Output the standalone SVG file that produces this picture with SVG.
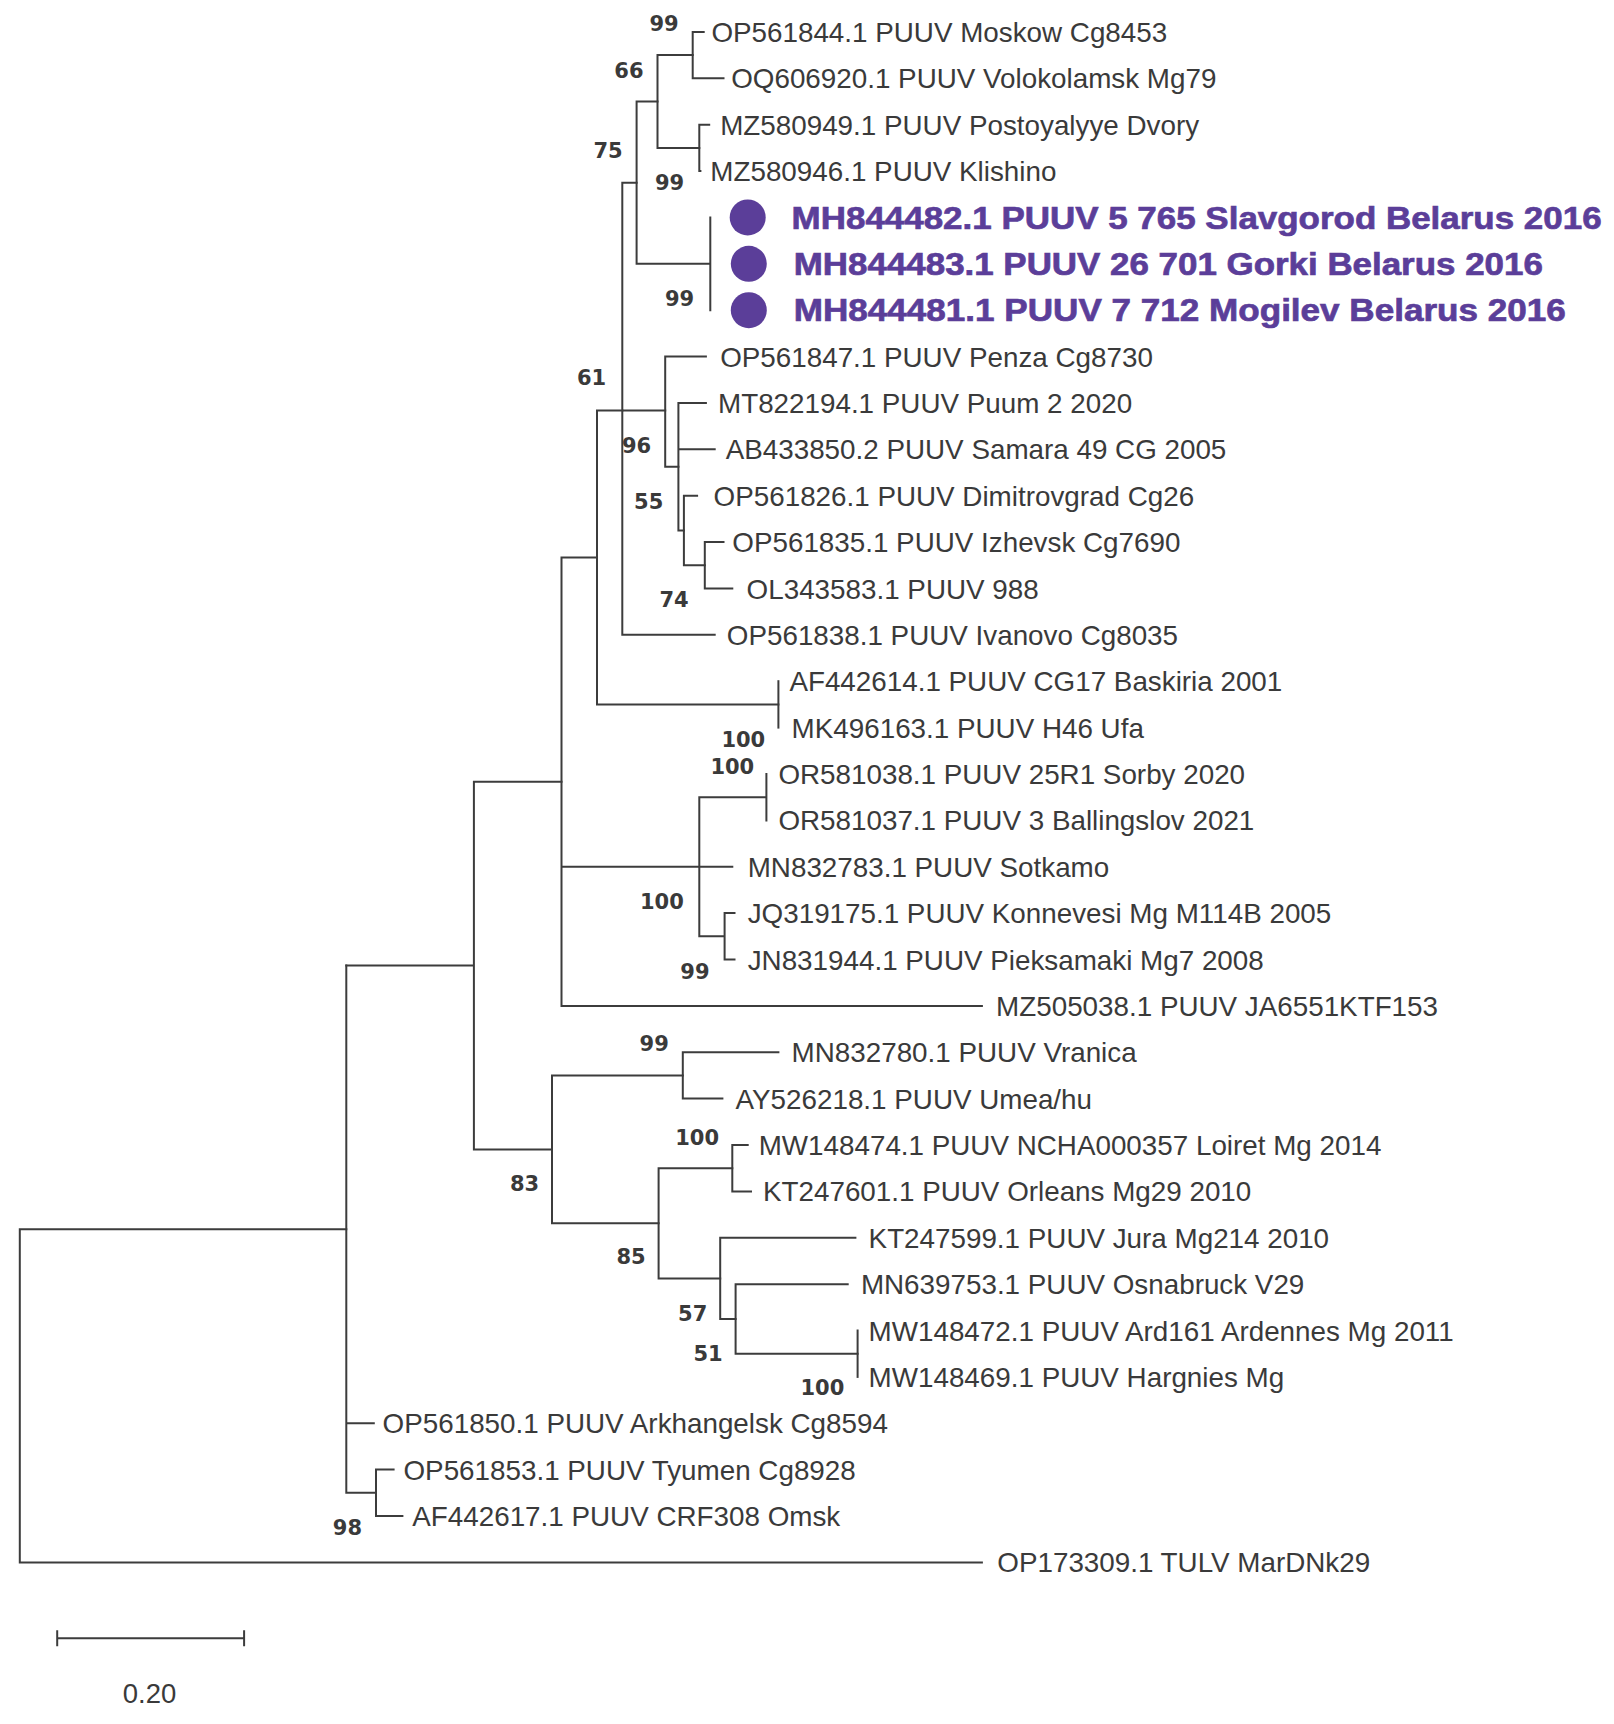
<svg xmlns="http://www.w3.org/2000/svg" width="1614" height="1724" viewBox="0 0 1614 1724">
<style>
.br{stroke:#3c3c3c;stroke-width:2;fill:none;stroke-linecap:square}
.tx{font-family:"Liberation Sans",Arial,sans-serif;font-size:27.8px;fill:#3a3a3a}
.hl{font-family:"Liberation Sans",Arial,sans-serif;font-size:32px;font-weight:bold;fill:#5b3e99;stroke:#5b3e99;stroke-width:0.7}
.bs{font-family:"DejaVu Sans",Verdana,sans-serif;font-size:21px;font-weight:bold;fill:#3a3a3a;text-anchor:middle}
.dot{fill:#5b3e99}
.sc{font-family:"Liberation Sans",Arial,sans-serif;font-size:27.5px;fill:#3a3a3a;text-anchor:middle}
</style>
<rect width="1614" height="1724" fill="#ffffff"/>
<g id="connectors" class="br">
<path d="M19.8,1229.2 V1562.4 H981.9 M19.8,1229.2 H346.3"/>
<path d="M346.3,965.5 V1492.8 M346.3,1423.3 H373.8 M346.3,1492.8 H376"/>
<path d="M376,1469.6 V1516 M376,1469.6 H393.6 M376,1516 H402.4"/>
<path d="M346.3,965.5 H473.9 M473.9,781.7 V1149.4 M473.9,781.7 H561.5 M473.9,1149.4 H552"/>
<path d="M561.5,557.5 V1005.9 M561.5,1005.9 H981.9 M561.5,866.7 H732.3 M561.5,557.5 H597"/>
<path d="M597,410.5 V704.4 M597,704.4 H778.4 M597,410.5 H622.3"/>
<path d="M778.4,681.2 V727.6"/>
<path d="M699.3,797.2 V936.3 M699.3,797.2 H766.4 M766.4,774 V820.4 M699.3,936.3 H724.6 M724.6,913.1 V959.5 M724.6,913.1 H734.5 M724.6,959.5 H734.5"/>
<path d="M622.3,182.7 V634.8 M622.3,634.8 H714.7 M622.3,182.7 H636.6 M622.3,410.5 H665.2"/>
<path d="M636.6,101.5 V263.8 M636.6,101.5 H657.5 M636.6,263.8 H710.3 M710.3,217.4 V310.2"/>
<path d="M657.5,55.1 V147.9 M657.5,55.1 H692.7 M657.5,147.9 H699.3"/>
<path d="M692.7,31.9 V78.3 M692.7,31.9 H703.7 M692.7,78.3 H723.5"/>
<path d="M699.3,124.7 V171 M699.3,124.7 H709.2 M699.3,171 H700.4"/>
<path d="M665.2,356.6 V466.8 M665.2,356.6 H705.9 M665.2,466.8 H678.4"/>
<path d="M678.4,403 V530.5 M678.4,403 H705.9 M678.4,449.3 H714.7 M678.4,530.5 H683.9"/>
<path d="M683.9,495.7 V565.3 M683.9,495.7 H697.1 M683.9,565.3 H704.8"/>
<path d="M704.8,542.1 V588.5 M704.8,542.1 H723.5 M704.8,588.5 H732.3"/>
<path d="M552,1075.5 V1223.3 M552,1075.5 H682.8 M552,1223.3 H658.6"/>
<path d="M682.8,1052.3 V1098.6 M682.8,1052.3 H778.4 M682.8,1098.6 H722.4"/>
<path d="M658.6,1168.2 V1278.4 M658.6,1168.2 H732.3 M658.6,1278.4 H720.2"/>
<path d="M732.3,1145 V1191.4 M732.3,1145 H747.7 M732.3,1191.4 H751"/>
<path d="M720.2,1237.8 V1319 M720.2,1237.8 H855.4 M720.2,1319 H735.6"/>
<path d="M735.6,1284.2 V1353.7 M735.6,1284.2 H847.7 M735.6,1353.7 H857.6"/>
<path d="M857.6,1330.5 V1376.9"/>
<path d="M57.2,1638.3 H244.1 M57.2,1631.3 V1645.3 M244.1,1631.3 V1645.3"/>
</g>
<g id="taxa">
<text class="tx" x="711.4" y="41.9">OP561844.1 PUUV Moskow Cg8453</text>
<text class="tx" x="731.2" y="88.3">OQ606920.1 PUUV Volokolamsk Mg79</text>
<text class="tx" x="720.2" y="134.7">MZ580949.1 PUUV Postoyalyye Dvory</text>
<text class="tx" x="710.3" y="181">MZ580946.1 PUUV Klishino</text>
<g id="belarus1"><circle class="dot" cx="747.7" cy="217.4" r="18"/><text class="hl" x="791.6" y="228.6" textLength="810" lengthAdjust="spacingAndGlyphs">MH844482.1 PUUV 5 765 Slavgorod Belarus 2016</text></g>
<g id="belarus2"><circle class="dot" cx="748.8" cy="263.8" r="18"/><text class="hl" x="793.8" y="275" textLength="749" lengthAdjust="spacingAndGlyphs">MH844483.1 PUUV 26 701 Gorki Belarus 2016</text></g>
<g id="belarus3"><circle class="dot" cx="748.8" cy="310.2" r="18"/><text class="hl" x="793.8" y="321.4" textLength="772" lengthAdjust="spacingAndGlyphs">MH844481.1 PUUV 7 712 Mogilev Belarus 2016</text></g>
<text class="tx" x="720.2" y="366.6">OP561847.1 PUUV Penza Cg8730</text>
<text class="tx" x="718" y="413">MT822194.1 PUUV Puum 2 2020</text>
<text class="tx" x="725.7" y="459.3">AB433850.2 PUUV Samara 49 CG 2005</text>
<text class="tx" x="713.6" y="505.7">OP561826.1 PUUV Dimitrovgrad Cg26</text>
<text class="tx" x="732.3" y="552.1">OP561835.1 PUUV Izhevsk Cg7690</text>
<text class="tx" x="746.6" y="598.5">OL343583.1 PUUV 988</text>
<text class="tx" x="726.8" y="644.8">OP561838.1 PUUV Ivanovo Cg8035</text>
<text class="tx" x="789.4" y="691.2">AF442614.1 PUUV CG17 Baskiria 2001</text>
<text class="tx" x="791.6" y="737.6">MK496163.1 PUUV H46 Ufa</text>
<text class="tx" x="778.4" y="784">OR581038.1 PUUV 25R1 Sorby 2020</text>
<text class="tx" x="778.4" y="830.4">OR581037.1 PUUV 3 Ballingslov 2021</text>
<text class="tx" x="747.7" y="876.7">MN832783.1 PUUV Sotkamo</text>
<text class="tx" x="747.7" y="923.1">JQ319175.1 PUUV Konnevesi Mg M114B 2005</text>
<text class="tx" x="747.7" y="969.5">JN831944.1 PUUV Pieksamaki Mg7 2008</text>
<text class="tx" x="996.1" y="1015.9">MZ505038.1 PUUV JA6551KTF153</text>
<text class="tx" x="791.6" y="1062.3">MN832780.1 PUUV Vranica</text>
<text class="tx" x="735.6" y="1108.6">AY526218.1 PUUV Umea/hu</text>
<text class="tx" x="758.7" y="1155">MW148474.1 PUUV NCHA000357 Loiret Mg 2014</text>
<text class="tx" x="763" y="1201.4">KT247601.1 PUUV Orleans Mg29 2010</text>
<text class="tx" x="868.6" y="1247.8">KT247599.1 PUUV Jura Mg214 2010</text>
<text class="tx" x="860.9" y="1294.2">MN639753.1 PUUV Osnabruck V29</text>
<text class="tx" x="868.6" y="1340.5">MW148472.1 PUUV Ard161 Ardennes Mg 2011</text>
<text class="tx" x="868.6" y="1386.9">MW148469.1 PUUV Hargnies Mg</text>
<text class="tx" x="382.6" y="1433.3">OP561850.1 PUUV Arkhangelsk Cg8594</text>
<text class="tx" x="403.5" y="1479.6">OP561853.1 PUUV Tyumen Cg8928</text>
<text class="tx" x="412.3" y="1526">AF442617.1 PUUV CRF308 Omsk</text>
<text class="tx" x="997.3" y="1572.4">OP173309.1 TULV MarDNk29</text>
</g>
<g id="bootstrap">
<text class="bs" x="664.1" y="30.8">99</text>
<text class="bs" x="628.9" y="78.1">66</text>
<text class="bs" x="608" y="158.3">75</text>
<text class="bs" x="669.6" y="190.2">99</text>
<text class="bs" x="679.5" y="305.7">99</text>
<text class="bs" x="591.5" y="384.8">61</text>
<text class="bs" x="636.6" y="453">96</text>
<text class="bs" x="648.7" y="509.1">55</text>
<text class="bs" x="674" y="606.9">74</text>
<text class="bs" x="743.3" y="746.6">100</text>
<text class="bs" x="732.3" y="774.1">100</text>
<text class="bs" x="661.9" y="909.3">100</text>
<text class="bs" x="694.9" y="978.6">99</text>
<text class="bs" x="654.2" y="1051.1">99</text>
<text class="bs" x="697.1" y="1144.6">100</text>
<text class="bs" x="524.5" y="1190.8">83</text>
<text class="bs" x="631.1" y="1264.4">85</text>
<text class="bs" x="692.7" y="1320.5">57</text>
<text class="bs" x="708.1" y="1361.2">51</text>
<text class="bs" x="822.4" y="1395.3">100</text>
<text class="bs" x="347.4" y="1534.9">98</text>
</g>
<g id="scale">
<text class="sc" x="149.5" y="1703">0.20</text>
</g>
</svg>
